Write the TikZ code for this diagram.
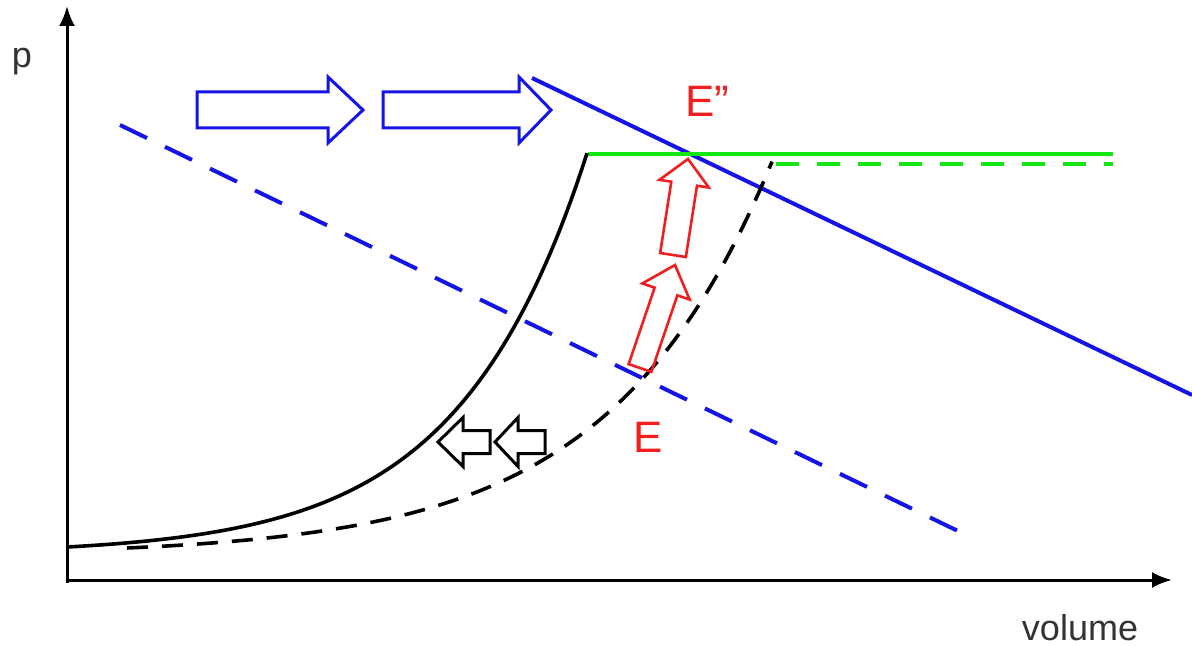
\documentclass[tikz,border=0pt]{standalone}
\usepackage{fontspec}
\setmainfont{Liberation Sans}
\usetikzlibrary{calc,arrows.meta}
\definecolor{pblue}{RGB}{20,20,230}
\definecolor{pgreen}{RGB}{20,230,20}
\definecolor{pred}{RGB}{240,30,30}
\newcommand\blockarr[6]{%
  \coordinate (bA) at #1; \coordinate (bB) at #2;
  \coordinate (bH) at ($(bB)!#5!(bA)$);
  \draw[#6] ($(bA)!#3!90:(bB)$) -- ($(bH)!#3!-90:(bA)$) -- ($(bH)!#4!-90:(bA)$) -- (bB)
    -- ($(bH)!#4!90:(bA)$) -- ($(bH)!#3!90:(bA)$) -- ($(bA)!#3!-90:(bB)$) -- cycle;}
\tikzset{
  axis/.style={line width=1.5pt,-{Latex[length=10pt,width=8pt]}},
  curve/.style={line width=1.8pt,black},
  bluearr/.style={line width=1.5pt,pblue,line join=miter},
  redarr/.style={line width=1.3pt,pred,line join=miter},
  blackarr/.style={line width=1.5pt,black,line join=miter},
  lbl/.style={font=\fontsize{18}{20}\selectfont,text=black!80,inner sep=1pt},
  elbl/.style={font=\fontsize{22}{24}\selectfont,text=pred}
}
\begin{document}
\begin{tikzpicture}[x=0.5pt,y=-0.5pt]
\useasboundingbox (0,0) rectangle (1192,646);
% axes
\coordinate (O) at (67,580);
\coordinate (ytip) at (67,6);
\coordinate (xtip) at (1172,580);
\draw[axis] (67,583) -- (ytip);
\draw[axis] (O) -- (xtip);
\node[lbl] (plab) at (22,62) {p};
\node[lbl] (vlab) at (1080,628) {volume};
% blue lines
\coordinate (bd1) at (120,125); \coordinate (bd2) at (960,532);
\draw[pblue,line width=2pt,dash pattern=on 15pt off 10pt] (bd1) -- (bd2);
\coordinate (bs1) at (532,78); \coordinate (bs2) at (1192,395);
\draw[pblue,line width=2pt] (bs1) -- (bs2);
% green lines
\coordinate (g1) at (588,154); \coordinate (g2) at (1113,154);
\draw[pgreen,line width=2pt] (g1) -- (g2);
\coordinate (gd1) at (776,164); \coordinate (gd2) at (1113,164);
\draw[pgreen,line width=2pt,dash pattern=on 11.5pt off 9pt] (gd1) -- (gd2);
% curves
\draw[curve] plot[domain=67:587,samples=100] (\x,{547-6.95*(exp(0.0078*(\x-67))-1)});
\draw[curve,dash pattern=on 10.5pt off 7pt] plot[domain=127:772,samples=100] (\x,{548-7.24*(exp(0.0062*(\x-127))-1)});
% blue block arrows
\blockarr{(197,110)}{(363,110)}{9pt}{16.5pt}{17.5pt}{bluearr}
\blockarr{(383,110)}{(551,110)}{9pt}{16.5pt}{16pt}{bluearr}
% red block arrows
\blockarr{(640,368)}{(675,265)}{6pt}{12.5pt}{14pt}{redarr}
\blockarr{(673,255)}{(688,159)}{6.5pt}{12.5pt}{12.5pt}{redarr}
% black small arrows
\blockarr{(490,442)}{(438,442)}{5.75pt}{12.25pt}{12.5pt}{blackarr}
\blockarr{(545,442)}{(495,442)}{5.75pt}{12.25pt}{11.5pt}{blackarr}
% labels
\node[elbl] (Epp) at (707,101) {E''};
\node[elbl] (E) at (648,437) {E};
\end{tikzpicture}
\end{document}
